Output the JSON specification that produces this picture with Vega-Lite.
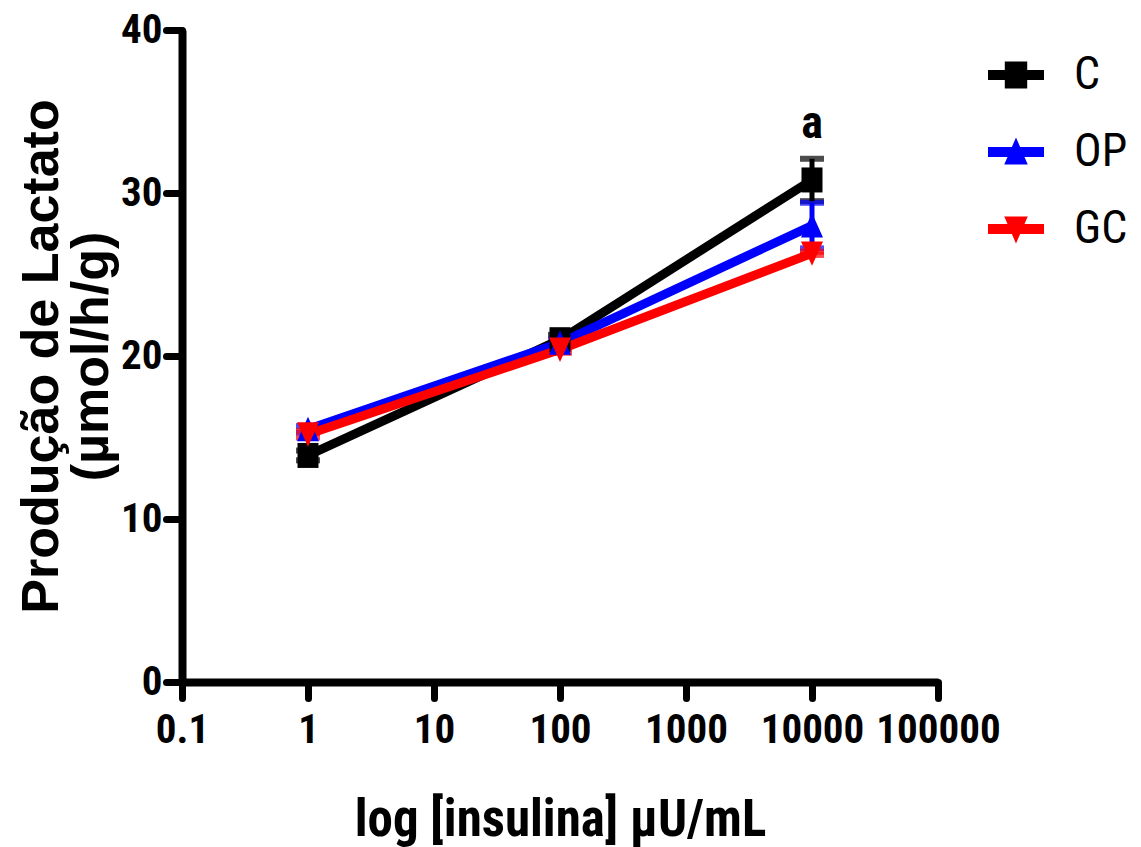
{
  "$schema": "https://vega.github.io/schema/vega-lite/v6.json",
  "width": 756,
  "height": 652,
  "autosize": {"type": "none"},
  "padding": {"left": 182, "top": 30, "right": 203, "bottom": 165},
  "background": "white",
  "config": {
    "view": {"stroke": null},
    "axis": {"grid": false, "domainColor": "black", "tickColor": "black", "labelColor": "black", "titleColor": "black"}
  },
  "datasets": {
    "lactato": [
      {"insulina": 1, "group": "C", "mean": 13.9, "sem": 0.3},
      {"insulina": 100, "group": "C", "mean": 21.0, "sem": 0.3},
      {"insulina": 10000, "group": "C", "mean": 30.8, "sem": 1.3},
      {"insulina": 1, "group": "OP", "mean": 15.5, "sem": 0.2},
      {"insulina": 100, "group": "OP", "mean": 20.8, "sem": 0.2},
      {"insulina": 10000, "group": "OP", "mean": 28.0, "sem": 1.4},
      {"insulina": 1, "group": "GC", "mean": 15.2, "sem": 0.2},
      {"insulina": 100, "group": "GC", "mean": 20.4, "sem": 0.2},
      {"insulina": 10000, "group": "GC", "mean": 26.3, "sem": 0.1}
    ],
    "ann": [{"insulina": 10000, "mean": 33.4, "label": "a"}]
  },
  "data": {"name": "lactato"},
  "encoding": {
    "x": {
      "field": "insulina", "type": "quantitative",
      "scale": {"type": "log", "domain": [0.1, 100000], "nice": false},
      "axis": {
        "values": [0.1, 1, 10, 100, 1000, 10000, 100000],
        "labelExpr": "datum.value < 1 ? '0.1' : format(datum.value, 'd')",
        "labelFont": "Roboto Condensed", "labelFontSize": 41, "labelFontWeight": "bold",
        "labelPadding": 12, "labelFlush": false, "labelOverlap": false,
        "tickSize": 16, "tickWidth": 7, "tickCap": "round",
        "domainWidth": 8,
        "title": "log [insulina] µU/mL",
        "titleFont": "Roboto Condensed", "titleFontSize": 51, "titleFontWeight": "bold",
        "titleY": 153, "titleBaseline": "alphabetic"
      }
    },
    "y": {
      "field": "mean", "type": "quantitative",
      "scale": {"domain": [0, 40], "nice": false},
      "axis": {
        "values": [0, 10, 20, 30, 40],
        "labelFont": "Roboto Condensed", "labelFontSize": 41, "labelFontWeight": "bold",
        "labelPadding": 4,
        "tickSize": 16, "tickWidth": 7, "tickCap": "round",
        "domainWidth": 8,
        "title": ["Produção de Lactato", "(µmol/h/g)"],
        "titleFont": "Liberation Sans", "titleFontSize": 52, "titleFontWeight": "bold",
        "titleAngle": 270, "titleX": -125, "titleY": 326,
        "titleAlign": "center", "titleBaseline": "alphabetic", "titleLineHeight": 50
      }
    },
    "color": {
      "field": "group", "type": "nominal",
      "scale": {"domain": ["C", "OP", "GC"], "range": ["#000000", "#0000ff", "#ff0000"]},
      "legend": null
    }
  },
  "layer": [
    {
      "mark": {"type": "errorbar", "ticks": {"size": 24, "thickness": 6}, "rule": {"strokeWidth": 5}},
      "encoding": {
        "yError": {"field": "sem"}
      }
    },
    {
      "mark": {"type": "line", "strokeWidth": 9}
    },
    {
      "mark": {"type": "point", "filled": true, "opacity": 1, "strokeWidth": 0, "size": 625},
      "encoding": {
        "shape": {
          "field": "group", "type": "nominal",
          "scale": {"domain": ["C", "OP", "GC"], "range": ["M-0.84,-1H0.84V1H-0.84Z", "M0,-1L0.88,0.95H-0.88Z", "M-0.88,-0.95H0.88L0,1Z"]},
          "legend": null
        }
      }
    },
    {
      "transform": [{"filter": "false"}],
      "mark": {"type": "point", "filled": true, "opacity": 1, "strokeWidth": 0, "size": 3136},
      "encoding": {
        "color": {
          "field": "group", "type": "nominal",
          "scale": {"domain": ["C", "OP", "GC"], "range": ["#000000", "#0000ff", "#ff0000"]},
          "legend": {
            "orient": "none", "legendX": 806, "legendY": 17, "title": null, "padding": 0,
            "labelFont": "Roboto Condensed", "labelFontSize": 46, "labelFontWeight": "normal",
            "labelColor": "black", "labelOffset": 30, "rowPadding": 26, "symbolStrokeWidth": 0, "symbolSize": 3136
          }
        },
        "shape": {
          "field": "group", "type": "nominal",
          "scale": {"domain": ["C", "OP", "GC"], "range": [
            "M-1,-0.18H1V0.18H-1Z M-0.4,-0.48H0.4V0.48H-0.4Z",
            "M-1,-0.18H1V0.18H-1Z M0,-0.52L0.42,0.45H-0.42Z",
            "M-1,-0.18H1V0.18H-1Z M-0.42,-0.45H0.42L0,0.52Z"
          ]},
          "legend": {
            "orient": "none", "legendX": 806, "legendY": 17, "title": null, "padding": 0,
            "labelFont": "Roboto Condensed", "labelFontSize": 46, "labelFontWeight": "normal",
            "labelColor": "black", "labelOffset": 30, "rowPadding": 26, "symbolStrokeWidth": 0, "symbolSize": 3136
          }
        }
      }
    },
    {
      "data": {"name": "ann"},
      "mark": {"type": "text", "font": "Roboto Condensed", "fontSize": 46, "fontWeight": "bold", "baseline": "alphabetic", "align": "center"},
      "encoding": {
        "text": {"field": "label"},
        "color": {"value": "black"}
      }
    }
  ],
  "resolve": {"scale": {"color": "independent", "shape": "independent"}}
}
